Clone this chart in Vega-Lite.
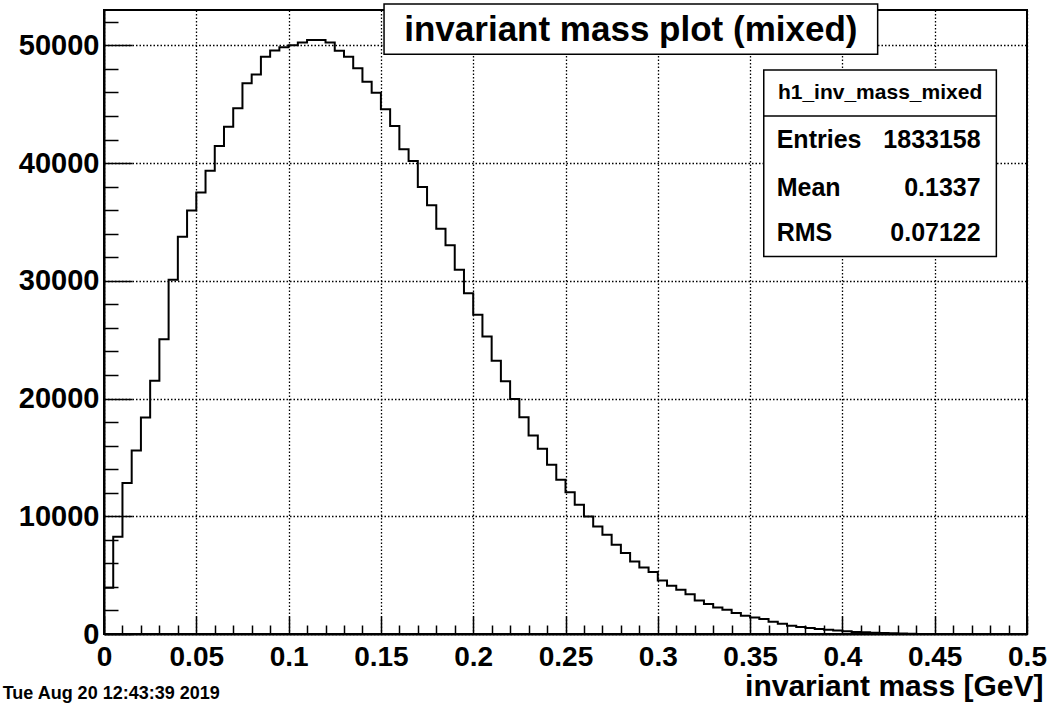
{
  "$schema": "https://vega.github.io/schema/vega-lite/v6.json",
  "autosize": "none",
  "width": 923,
  "height": 624,
  "padding": {"left": 104, "top": 10, "right": 23, "bottom": 76},
  "background": "white",
  "config": {"view": {"stroke": "black", "strokeWidth": 2}, "font": "Liberation Sans"},
  "resolve": {"scale": {"x": "independent", "y": "independent"}, "axis": {"x": "independent", "y": "independent"}},
  "layer": [
    {
      "data": {"values": [
        {"mass": 0, "entries": 3930}, {"mass": 0.005, "entries": 8260}, {"mass": 0.01, "entries": 12820}, {"mass": 0.015, "entries": 15590},
        {"mass": 0.02, "entries": 18390}, {"mass": 0.025, "entries": 21500}, {"mass": 0.03, "entries": 25040}, {"mass": 0.035, "entries": 30080},
        {"mass": 0.04, "entries": 33750}, {"mass": 0.045, "entries": 35960}, {"mass": 0.05, "entries": 37490}, {"mass": 0.055, "entries": 39350},
        {"mass": 0.06, "entries": 41450}, {"mass": 0.065, "entries": 43090}, {"mass": 0.07, "entries": 44650}, {"mass": 0.075, "entries": 46770},
        {"mass": 0.08, "entries": 47520}, {"mass": 0.085, "entries": 49030}, {"mass": 0.09, "entries": 49560}, {"mass": 0.095, "entries": 49840},
        {"mass": 0.1, "entries": 50010}, {"mass": 0.105, "entries": 50250}, {"mass": 0.11, "entries": 50450}, {"mass": 0.115, "entries": 50450},
        {"mass": 0.12, "entries": 50250}, {"mass": 0.125, "entries": 49540}, {"mass": 0.13, "entries": 49030}, {"mass": 0.135, "entries": 48050},
        {"mass": 0.14, "entries": 46910}, {"mass": 0.145, "entries": 45980}, {"mass": 0.15, "entries": 44570}, {"mass": 0.155, "entries": 43150},
        {"mass": 0.16, "entries": 41170}, {"mass": 0.165, "entries": 40180}, {"mass": 0.17, "entries": 37970}, {"mass": 0.175, "entries": 36420},
        {"mass": 0.18, "entries": 34430}, {"mass": 0.185, "entries": 33020}, {"mass": 0.19, "entries": 30930}, {"mass": 0.195, "entries": 28950},
        {"mass": 0.2, "entries": 27110}, {"mass": 0.205, "entries": 25260}, {"mass": 0.21, "entries": 23200}, {"mass": 0.215, "entries": 21460},
        {"mass": 0.22, "entries": 19960}, {"mass": 0.225, "entries": 18420}, {"mass": 0.23, "entries": 16860}, {"mass": 0.235, "entries": 15730},
        {"mass": 0.24, "entries": 14370}, {"mass": 0.245, "entries": 13100}, {"mass": 0.25, "entries": 12050}, {"mass": 0.255, "entries": 10980},
        {"mass": 0.26, "entries": 9980}, {"mass": 0.265, "entries": 9130}, {"mass": 0.27, "entries": 8430}, {"mass": 0.275, "entries": 7580},
        {"mass": 0.28, "entries": 6880}, {"mass": 0.285, "entries": 6160}, {"mass": 0.29, "entries": 5650}, {"mass": 0.295, "entries": 5270},
        {"mass": 0.3, "entries": 4540}, {"mass": 0.305, "entries": 4100}, {"mass": 0.31, "entries": 3760}, {"mass": 0.315, "entries": 3370},
        {"mass": 0.32, "entries": 2850}, {"mass": 0.325, "entries": 2550}, {"mass": 0.33, "entries": 2260}, {"mass": 0.335, "entries": 2060},
        {"mass": 0.34, "entries": 1780}, {"mass": 0.345, "entries": 1550}, {"mass": 0.35, "entries": 1410}, {"mass": 0.355, "entries": 1270},
        {"mass": 0.36, "entries": 1050}, {"mass": 0.365, "entries": 880}, {"mass": 0.37, "entries": 710}, {"mass": 0.375, "entries": 600},
        {"mass": 0.38, "entries": 510}, {"mass": 0.385, "entries": 420}, {"mass": 0.39, "entries": 360}, {"mass": 0.395, "entries": 290},
        {"mass": 0.4, "entries": 230}, {"mass": 0.405, "entries": 180}, {"mass": 0.41, "entries": 140}, {"mass": 0.415, "entries": 110},
        {"mass": 0.42, "entries": 80}, {"mass": 0.425, "entries": 60}, {"mass": 0.43, "entries": 40}, {"mass": 0.435, "entries": 25},
        {"mass": 0.44, "entries": 0}, {"mass": 0.445, "entries": 0}, {"mass": 0.45, "entries": 0}, {"mass": 0.455, "entries": 0},
        {"mass": 0.46, "entries": 0}, {"mass": 0.465, "entries": 0}, {"mass": 0.47, "entries": 0}, {"mass": 0.475, "entries": 0},
        {"mass": 0.48, "entries": 0}, {"mass": 0.485, "entries": 0}, {"mass": 0.49, "entries": 0}, {"mass": 0.495, "entries": 0},
        {"mass": 0.5, "entries": 0}
      ]},
      "mark": {"type": "line", "interpolate": "step-after", "color": "black", "strokeWidth": 2},
      "encoding": {
        "x": {
          "field": "mass", "type": "quantitative",
          "scale": {"domain": [0, 0.5], "nice": false, "zero": false},
          "axis": {
            "values": [0,0.01,0.02,0.03,0.04,0.05,0.06,0.07,0.08,0.09,0.1,0.11,0.12,0.13,0.14,0.15,0.16,0.17,0.18,0.19,0.2,0.21,0.22,0.23,0.24,0.25,0.26,0.27,0.28,0.29,0.3,0.31,0.32,0.33,0.34,0.35,0.36,0.37,0.38,0.39,0.4,0.41,0.42,0.43,0.44,0.45,0.46,0.47,0.48,0.49,0.5],
            "format": ".2~f",
            "labelExpr": "abs(datum.value*20 - round(datum.value*20)) < 0.001 ? datum.label : ''",
            "tickSize": {"condition": {"test": "abs(datum.value*20 - round(datum.value*20)) < 0.001", "value": -18}, "value": -9},
            "tickColor": "black", "tickWidth": 1.5,
            "grid": true,
            "gridOpacity": {"condition": {"test": "abs(datum.value*20 - round(datum.value*20)) < 0.001", "value": 1}, "value": 0},
            "gridColor": "black", "gridDash": [1.5, 2], "gridWidth": 1.3,
            "domainColor": "black", "domainWidth": 2,
            "labelFont": "Liberation Sans", "labelFontWeight": "bold", "labelFontSize": 28, "labelColor": "black",
            "labelPadding": 27, "labelFlush": false, "labelOverlap": false,
            "title": "invariant mass [GeV]",
            "titleFont": "Liberation Sans", "titleFontWeight": "bold", "titleFontSize": 30, "titleColor": "black",
            "titleAnchor": "end", "titleAlign": "right", "titleBaseline": "alphabetic", "titleX": 939, "titleY": 61
          }
        },
        "y": {
          "field": "entries", "type": "quantitative",
          "scale": {"domain": [0, 53000], "nice": false},
          "axis": {
            "values": [0,2000,4000,6000,8000,10000,12000,14000,16000,18000,20000,22000,24000,26000,28000,30000,32000,34000,36000,38000,40000,42000,44000,46000,48000,50000,52000],
            "format": "d",
            "labelExpr": "datum.value % 10000 === 0 ? datum.label : ''",
            "tickSize": {"condition": {"test": "datum.value % 10000 === 0", "value": -28}, "value": -14},
            "tickColor": "black", "tickWidth": 1.5,
            "grid": true,
            "gridOpacity": {"condition": {"test": "datum.value % 10000 === 0", "value": 1}, "value": 0},
            "gridColor": "black", "gridDash": [1.5, 2], "gridWidth": 1.3,
            "domainColor": "black", "domainWidth": 2,
            "labelFont": "Liberation Sans", "labelFontWeight": "bold", "labelFontSize": 29, "labelColor": "black",
            "labelPadding": 33, "labelOverlap": false, "labelBaseline": "middle",
            "title": null
          }
        }
      }
    },
    {
      "encoding": {
        "x": {"type": "quantitative", "scale": {"domain": [0, 0.5], "nice": false, "zero": false}, "axis": null},
        "y": {"type": "quantitative", "scale": {"domain": [0, 53000], "nice": false}, "axis": null}
      },
      "layer": [
        {
          "data": {"values": [{}]},
          "mark": {"type": "rect", "fill": "white", "stroke": "black", "strokeWidth": 1.5},
          "encoding": {
            "x": {"datum": 0.1517, "type": "quantitative", "scale": {"domain": [0, 0.5], "nice": false, "zero": false}, "axis": null},
            "x2": {"datum": 0.4191},
            "y": {"datum": 53507, "type": "quantitative", "scale": {"domain": [0, 53000], "nice": false}, "axis": null},
            "y2": {"datum": 49236}
          }
        },
        {
          "data": {"values": [{"title": "invariant mass plot (mixed)"}]},
          "mark": {"type": "text", "font": "Liberation Sans", "fontWeight": "bold", "fontSize": 35, "color": "black", "align": "center", "baseline": "middle"},
          "encoding": {
            "x": {"datum": 0.2854, "type": "quantitative", "scale": {"domain": [0, 0.5], "nice": false, "zero": false}, "axis": null},
            "y": {"datum": 51300, "type": "quantitative", "scale": {"domain": [0, 53000], "nice": false}, "axis": null},
            "text": {"field": "title"}
          }
        },
        {
          "data": {"values": [{}]},
          "mark": {"type": "rect", "fill": "white", "stroke": "black", "strokeWidth": 1.5},
          "encoding": {
            "x": {"datum": 0.3574, "type": "quantitative", "scale": {"domain": [0, 0.5], "nice": false, "zero": false}, "axis": null},
            "x2": {"datum": 0.4834},
            "y": {"datum": 47903, "type": "quantitative", "scale": {"domain": [0, 53000], "nice": false}, "axis": null},
            "y2": {"datum": 32055}
          }
        },
        {
          "data": {"values": [{}]},
          "mark": {"type": "rule", "color": "black", "strokeWidth": 1.5},
          "encoding": {
            "x": {"datum": 0.3574, "type": "quantitative", "scale": {"domain": [0, 0.5], "nice": false, "zero": false}, "axis": null},
            "x2": {"datum": 0.4834},
            "y": {"datum": 44000, "type": "quantitative", "scale": {"domain": [0, 53000], "nice": false}, "axis": null}
          }
        },
        {
          "data": {"values": [{"name": "h1_inv_mass_mixed"}]},
          "mark": {"type": "text", "font": "Liberation Sans", "fontWeight": "bold", "fontSize": 21, "color": "black", "align": "center", "baseline": "middle"},
          "encoding": {
            "x": {"datum": 0.4204, "type": "quantitative", "scale": {"domain": [0, 0.5], "nice": false, "zero": false}, "axis": null},
            "y": {"datum": 45951, "type": "quantitative", "scale": {"domain": [0, 53000], "nice": false}, "axis": null},
            "text": {"field": "name"}
          }
        },
        {
          "data": {"values": [{"label": "Entries"}]},
          "mark": {"type": "text", "font": "Liberation Sans", "fontWeight": "bold", "fontSize": 25, "color": "black", "align": "left", "baseline": "middle"},
          "encoding": {
            "x": {"datum": 0.3644, "type": "quantitative", "scale": {"domain": [0, 0.5], "nice": false, "zero": false}, "axis": null},
            "y": {"datum": 41962, "type": "quantitative", "scale": {"domain": [0, 53000], "nice": false}, "axis": null},
            "text": {"field": "label"}
          }
        },
        {
          "data": {"values": [{"label": "Mean"}]},
          "mark": {"type": "text", "font": "Liberation Sans", "fontWeight": "bold", "fontSize": 25, "color": "black", "align": "left", "baseline": "middle"},
          "encoding": {
            "x": {"datum": 0.3644, "type": "quantitative", "scale": {"domain": [0, 0.5], "nice": false, "zero": false}, "axis": null},
            "y": {"datum": 37887, "type": "quantitative", "scale": {"domain": [0, 53000], "nice": false}, "axis": null},
            "text": {"field": "label"}
          }
        },
        {
          "data": {"values": [{"label": "RMS"}]},
          "mark": {"type": "text", "font": "Liberation Sans", "fontWeight": "bold", "fontSize": 25, "color": "black", "align": "left", "baseline": "middle"},
          "encoding": {
            "x": {"datum": 0.3644, "type": "quantitative", "scale": {"domain": [0, 0.5], "nice": false, "zero": false}, "axis": null},
            "y": {"datum": 34067, "type": "quantitative", "scale": {"domain": [0, 53000], "nice": false}, "axis": null},
            "text": {"field": "label"}
          }
        },
        {
          "data": {"values": [{"value": "1833158"}]},
          "mark": {"type": "text", "font": "Liberation Sans", "fontWeight": "bold", "fontSize": 25, "color": "black", "align": "right", "baseline": "middle"},
          "encoding": {
            "x": {"datum": 0.4749, "type": "quantitative", "scale": {"domain": [0, 0.5], "nice": false, "zero": false}, "axis": null},
            "y": {"datum": 41962, "type": "quantitative", "scale": {"domain": [0, 53000], "nice": false}, "axis": null},
            "text": {"field": "value"}
          }
        },
        {
          "data": {"values": [{"value": "0.1337"}]},
          "mark": {"type": "text", "font": "Liberation Sans", "fontWeight": "bold", "fontSize": 25, "color": "black", "align": "right", "baseline": "middle"},
          "encoding": {
            "x": {"datum": 0.4749, "type": "quantitative", "scale": {"domain": [0, 0.5], "nice": false, "zero": false}, "axis": null},
            "y": {"datum": 37887, "type": "quantitative", "scale": {"domain": [0, 53000], "nice": false}, "axis": null},
            "text": {"field": "value"}
          }
        },
        {
          "data": {"values": [{"value": "0.07122"}]},
          "mark": {"type": "text", "font": "Liberation Sans", "fontWeight": "bold", "fontSize": 25, "color": "black", "align": "right", "baseline": "middle"},
          "encoding": {
            "x": {"datum": 0.4749, "type": "quantitative", "scale": {"domain": [0, 0.5], "nice": false, "zero": false}, "axis": null},
            "y": {"datum": 34067, "type": "quantitative", "scale": {"domain": [0, 53000], "nice": false}, "axis": null},
            "text": {"field": "value"}
          }
        },
        {
          "data": {"values": [{"date": "Tue Aug 20 12:43:39 2019"}]},
          "mark": {"type": "text", "font": "Liberation Sans", "fontWeight": "bold", "fontSize": 18, "color": "black", "align": "right", "baseline": "middle"},
          "encoding": {
            "x": {"datum": 0.0627, "type": "quantitative", "scale": {"domain": [0, 0.5], "nice": false, "zero": false}, "axis": null},
            "y": {"datum": -5068, "type": "quantitative", "scale": {"domain": [0, 53000], "nice": false}, "axis": null},
            "text": {"field": "date"}
          }
        }
      ]
    }
  ]
}
